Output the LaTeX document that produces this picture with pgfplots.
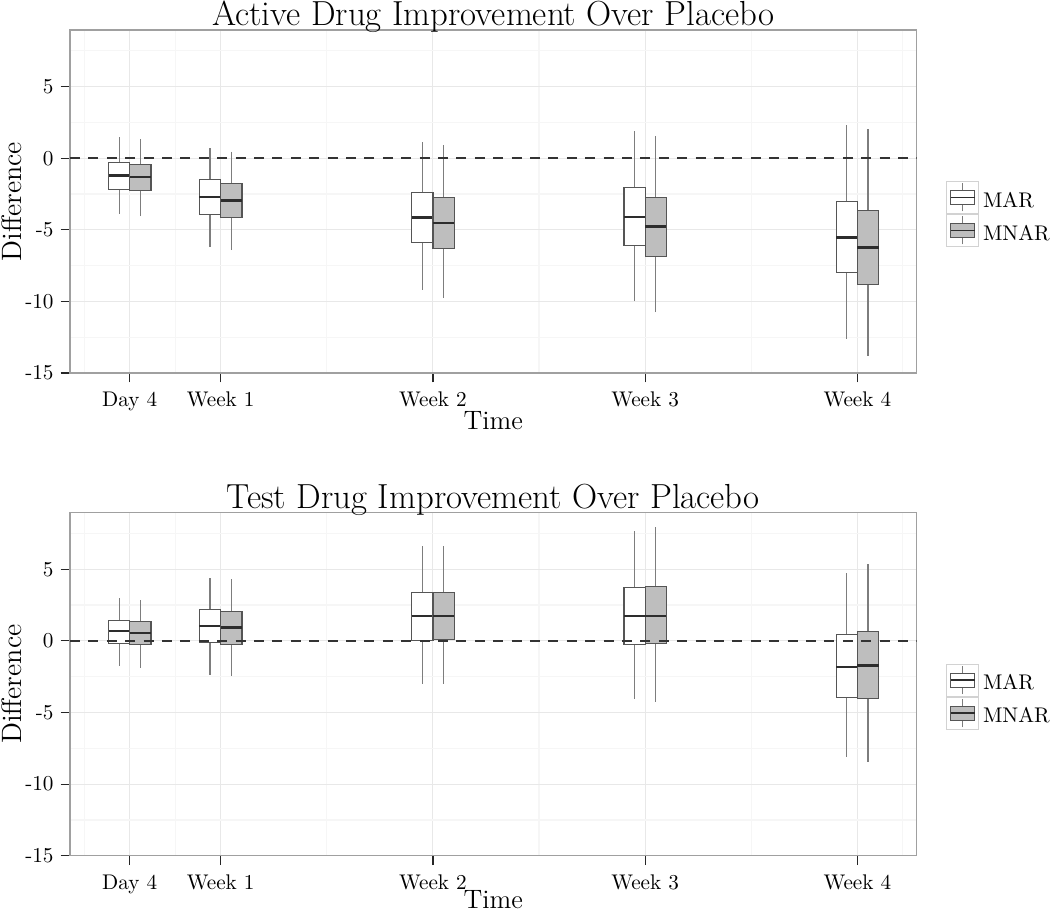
\documentclass[border=0pt]{standalone}
\usepackage{pgfplots}
\pgfplotsset{compat=1.18}
\usepackage{pgfplotstable}
\usepgfplotslibrary{statistics}

\definecolor{mnarfill}{RGB}{190,190,190}
\definecolor{boxc}{RGB}{85,85,85}
\definecolor{whc}{RGB}{125,125,125}
\definecolor{medc}{RGB}{45,45,45}
\definecolor{gridmaj}{RGB}{232,232,232}
\definecolor{gridmin}{RGB}{246,246,246}
\definecolor{framec}{RGB}{160,160,160}
\definecolor{keyc}{RGB}{210,210,210}

% columns: lower whisker, lower quartile, median, upper quartile, upper whisker
\pgfplotstableread{
lw lq med uq uw
-3.93 -2.19 -1.21 -0.28 1.47
-6.21 -3.91 -2.70 -1.51 0.70
-9.21 -5.91 -4.14 -2.37 1.16
-10.00 -6.10 -4.12 -2.05 1.93
-12.61 -7.98 -5.54 -3.03 2.32
}\topmar
\pgfplotstableread{
lw lq med uq uw
-4.07 -2.23 -1.33 -0.42 1.35
-6.42 -4.12 -2.96 -1.74 0.46
-9.77 -6.33 -4.54 -2.72 0.93
-10.77 -6.87 -4.77 -2.72 1.56
-13.80 -8.84 -6.24 -3.63 2.02
}\topmnar
\pgfplotstableread{
lw lq med uq uw
-1.75 -0.18 0.68 1.45 2.97
-2.38 -0.12 1.03 2.19 4.36
-2.98 0.05 1.73 3.38 6.62
-4.06 -0.25 1.75 3.73 7.69
-8.11 -3.98 -1.82 0.42 4.76
}\botmar
\pgfplotstableread{
lw lq med uq uw
-1.89 -0.28 0.54 1.36 2.83
-2.45 -0.23 0.94 2.08 4.29
-2.98 0.10 1.73 3.36 6.62
-4.25 -0.18 1.75 3.78 7.93
-8.43 -4.03 -1.72 0.65 5.34
}\botmnar

\newcommand{\bx}[4]{%
  \pgfplotstablegetelem{#2}{lw}\of{#1}\let\vlw\pgfplotsretval
  \pgfplotstablegetelem{#2}{lq}\of{#1}\let\vlq\pgfplotsretval
  \pgfplotstablegetelem{#2}{med}\of{#1}\let\vmed\pgfplotsretval
  \pgfplotstablegetelem{#2}{uq}\of{#1}\let\vuq\pgfplotsretval
  \pgfplotstablegetelem{#2}{uw}\of{#1}\let\vuw\pgfplotsretval
  \edef\doplot{\noexpand\addplot[draw=boxc, fill=#3, line width=0.6pt,
    boxplot prepared={draw direction=y, draw position=#4, lower whisker=\vlw, lower quartile=\vlq,
      median=\vmed, upper quartile=\vuq, upper whisker=\vuw}] coordinates {};}%
  \doplot}

\pgfplotsset{
  panel/.style={
    scale only axis, width=423.25pt, height=171.5pt,
    xmin=2.03, xmax=29.95, ymin=-15, ymax=8.95,
    xtick={4,7,14,21,28},
    xticklabels={Day 4,Week 1,Week 2,Week 3,Week 4},
    ytick={-15,-10,-5,0,5},
    yticklabels={-15,-10,-5,0,5},
    minor xtick={2.5,5.5,10.5,17.5,24.5,29.5},
    minor ytick={-12.5,-7.5,-2.5,2.5,7.5},
    grid=both,
    major grid style={draw=gridmaj, line width=0.45pt},
    minor grid style={draw=gridmin, line width=0.6pt},
    tick align=outside, major tick length=4.7pt, minor tick length=0pt,
    every tick/.style={black!85, line width=0.6pt},
    axis line style={draw=framec, line width=0.6pt},
    xtick pos=bottom, ytick pos=left,
    ticklabel style={font=\fontsize{10.6}{12}\selectfont},
    xticklabel style={anchor=base, yshift=-12pt},
    yticklabel style={anchor=east},
    xlabel=Time,
    xlabel style={font=\fontsize{13.3}{15}\selectfont, inner sep=0pt, at={(axis description cs:0.5,0)}, anchor=base, yshift=-28pt},
    ylabel=Difference,
    ylabel style={font=\fontsize{14}{15}\selectfont, at={(axis description cs:-0.0685,0.5)}, anchor=center},
    title style={font=\fontsize{17.4}{19}\selectfont, at={(axis description cs:0.5,1)}, anchor=base, yshift=-3.9pt},
    boxplot/draw direction=y,
    boxplot/whisker extend=0,
    boxplot/box extend=0.7,
    boxplot/every whisker/.style={draw=whc, line width=0.6pt},
    boxplot/every median/.style={draw=medc, line width=1.1pt},
    boxplot/every box/.style={draw=boxc, line width=0.6pt},
    legend style={draw=none, fill=none, at={(axis description cs:1,0.4636)}, anchor=west,
      xshift=14.75pt, inner sep=0pt, outer sep=0pt, row sep=0pt, column sep=2pt,
      nodes={inner sep=0pt, font=\fontsize{10.6}{12}\selectfont}},
    legend cell align=left,
  },
  markey/.style={legend image code/.code={
    \draw[draw=keyc, fill=white, line width=0.5pt] (0pt,-6.2pt) rectangle (16pt,9.8pt);
    \draw[draw=whc, line width=0.5pt] (8pt,-5.2pt)--(8pt,-1.7pt) (8pt,5.3pt)--(8pt,8.8pt);
    \draw[draw=boxc, fill=white, line width=0.5pt] (2pt,-1.7pt) rectangle (14pt,5.3pt);
    \draw[draw=medc, line width=0.8pt] (2pt,1.8pt)--(14pt,1.8pt);}},
  mnarkey/.style={legend image code/.code={
    \draw[draw=keyc, fill=white, line width=0.5pt] (0pt,-6.2pt) rectangle (16pt,9.8pt);
    \draw[draw=whc, line width=0.5pt] (8pt,-5.2pt)--(8pt,-1.7pt) (8pt,5.3pt)--(8pt,8.8pt);
    \draw[draw=boxc, fill=mnarfill, line width=0.5pt] (2pt,-1.7pt) rectangle (14pt,5.3pt);
    \draw[draw=medc, line width=0.8pt] (2pt,1.8pt)--(14pt,1.8pt);}},
  zeroline/.style={draw=black!80, line width=1pt, dash pattern=on 5pt off 4.2pt, forget plot},
}

\begin{document}
\begin{tikzpicture}
\useasboundingbox (-35pt,15pt) rectangle (490pt,-441pt);

\begin{axis}[panel, at={(0pt,0pt)}, anchor=north west,
  title={Active Drug Improvement Over Placebo}]
\addlegendimage{markey}
\addlegendentry{MAR}
\addlegendimage{mnarkey}
\addlegendentry{MNAR}
\bx{\topmar}{0}{white}{3.65}
\bx{\topmnar}{0}{mnarfill}{4.35}
\bx{\topmar}{1}{white}{6.65}
\bx{\topmnar}{1}{mnarfill}{7.35}
\bx{\topmar}{2}{white}{13.65}
\bx{\topmnar}{2}{mnarfill}{14.35}
\bx{\topmar}{3}{white}{20.65}
\bx{\topmnar}{3}{mnarfill}{21.35}
\bx{\topmar}{4}{white}{27.65}
\bx{\topmnar}{4}{mnarfill}{28.35}
\addplot[zeroline] coordinates {(2.03,0) (29.95,0)};
\end{axis}

\begin{axis}[panel, at={(0pt,-241.35pt)}, anchor=north west,
  title={Test Drug Improvement Over Placebo},
  xlabel style={yshift=1.8pt}]
\addlegendimage{markey}
\addlegendentry{MAR}
\addlegendimage{mnarkey}
\addlegendentry{MNAR}
\bx{\botmar}{0}{white}{3.65}
\bx{\botmnar}{0}{mnarfill}{4.35}
\bx{\botmar}{1}{white}{6.65}
\bx{\botmnar}{1}{mnarfill}{7.35}
\bx{\botmar}{2}{white}{13.65}
\bx{\botmnar}{2}{mnarfill}{14.35}
\bx{\botmar}{3}{white}{20.65}
\bx{\botmnar}{3}{mnarfill}{21.35}
\bx{\botmar}{4}{white}{27.65}
\bx{\botmnar}{4}{mnarfill}{28.35}
\addplot[zeroline] coordinates {(2.03,0) (29.95,0)};
\end{axis}
\end{tikzpicture}
\end{document}
